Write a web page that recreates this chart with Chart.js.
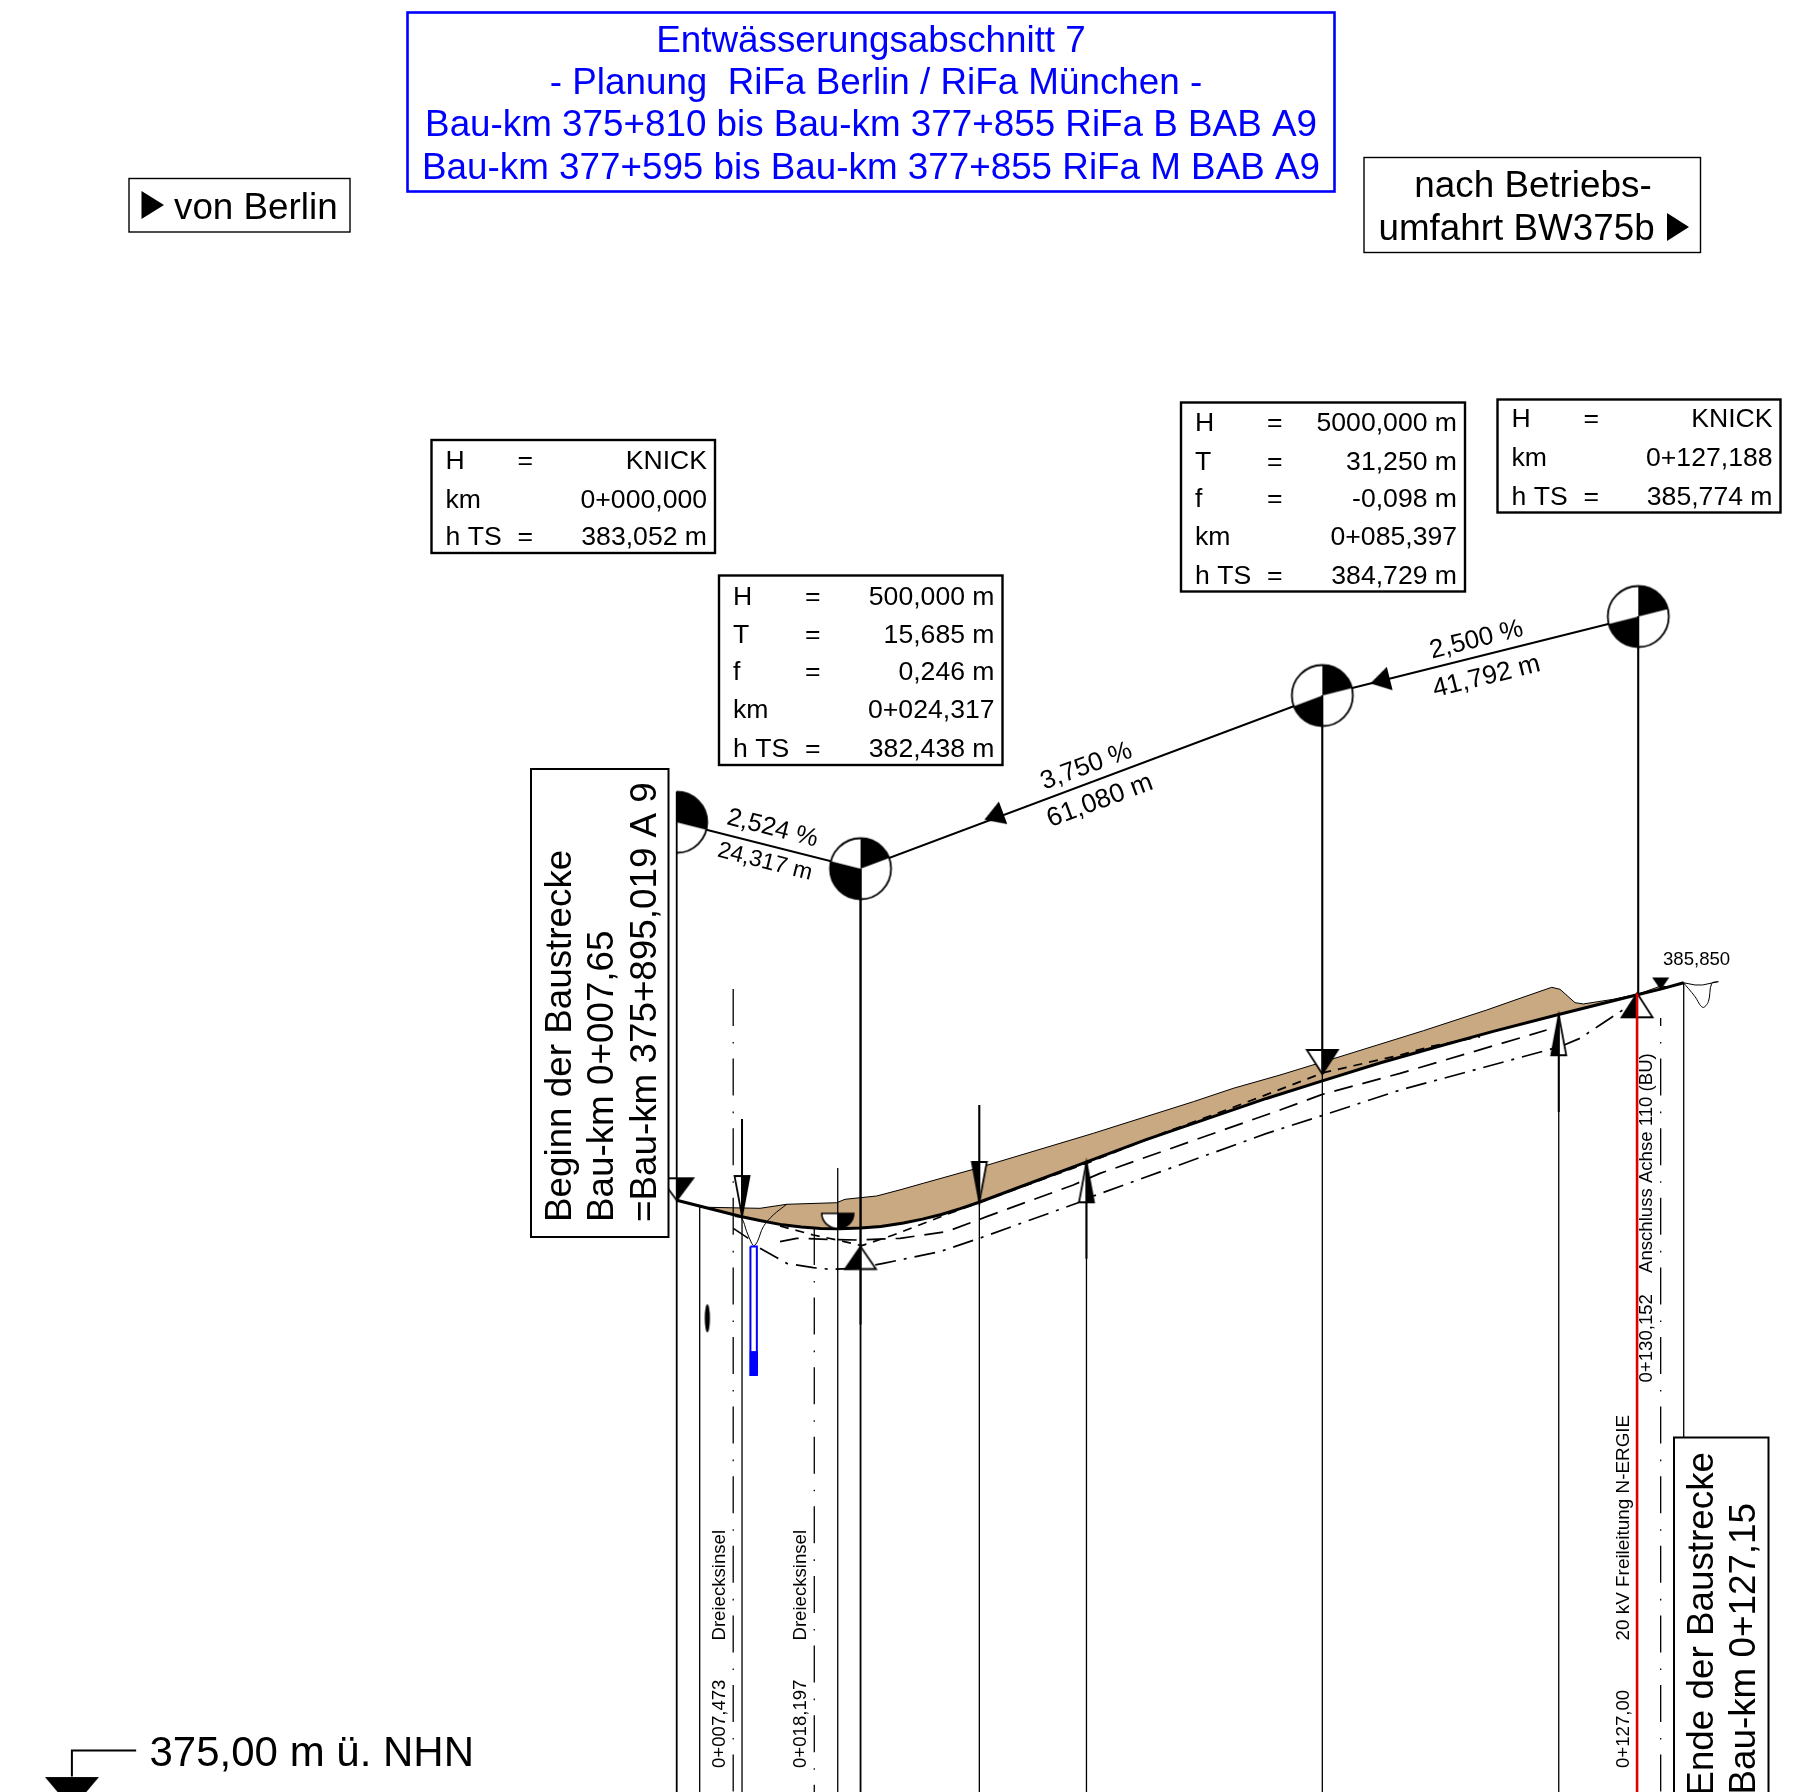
<!DOCTYPE html>
<html>
<head>
<meta charset="utf-8">
<title>Entwässerungsabschnitt 7</title>
<script src="https://cdn.jsdelivr.net/npm/chart.js@4/dist/chart.umd.min.js"></script>
<style>
  html, body { margin: 0; padding: 0; background: #fff; overflow: hidden; }
  canvas { display: block; }
</style>
</head>
<body>
<canvas id="profile" width="1817" height="1792"></canvas>
<script>
// Gradiente (station in m, height in m NHN)
const gradeStations = [0, 4.18, 8.63, 11, 14, 16.5, 19, 21.5, 24.32, 27, 30, 32.5, 35, 37.5, 40, 54.15, 62, 70, 78, 85.4, 93, 100, 108, 116.65, 127.19, 130.15, 133.2]
const gradeHeights = [383.052, 382.947, 382.834, 382.784, 382.727, 382.698, 382.680, 382.677, 382.684, 382.705, 382.751, 382.803, 382.864, 382.941, 383.026, 383.557, 383.851, 384.126, 384.399, 384.631, 384.868, 385.066, 385.287, 385.510, 385.774, 385.845, 385.930]

// top of terrain (brown area)
const terrainStations = [4.18, 11.02, 14.55, 21.16, 22.26, 26.46, 29.54, 32.62, 39.24, 41.88, 55.11, 58.64, 68.33, 73.62, 79.8, 87.74, 98.76, 107.14, 111.55, 115.74, 116.84, 118.82, 119.93, 123.89, 127.2, 128.31, 130.2, 130.95]
const terrainHeights = [382.959, 382.946, 382.999, 383.020, 383.065, 383.109, 383.19, 383.277, 383.462, 383.541, 383.938, 384.05, 384.356, 384.533, 384.709, 384.952, 385.295, 385.569, 385.724, 385.869, 385.843, 385.666, 385.649, 385.711, 385.781, 385.82, 385.887, 385.877]

const shortDashStations = [13.66, 18.07, 21.6, 24.47, 28.66, 36.15, 54.2, 64.81, 71.43, 76.72, 85.54, 95.68, 99.64, 106.26]
const shortDashHeights = [382.712, 382.593, 382.518, 382.452, 382.593, 382.88, 383.54, 383.96, 384.2, 384.40, 384.74, 384.973, 385.084, 385.216]

const longDashStations = [13.66, 15.87, 19.84, 23.8, 29.54, 35.71, 41, 52.46, 55.99, 79.8, 85.31, 95.68, 115.07]
const longDashHeights = [382.505, 382.549, 382.536, 382.527, 382.549, 382.637, 382.836, 383.255, 383.408, 384.246, 384.45, 384.731, 385.304]

const dashDotStations = [11.02, 14.55, 18.07, 20.28, 23.8, 27.33, 34.83, 40.03, 52.9, 55.11, 78.04, 85.44, 95.68, 116.84, 119.48, 122.13, 125.66]
const dashDotHeights = [382.417, 382.218, 382.161, 382.139, 382.152, 382.218, 382.373, 382.549, 383.012, 383.108, 383.937, 384.175, 384.51, 385.084, 385.194, 385.37, 385.604]

const ditchStations = [7.71, 8.59, 9.26, 9.92, 10.23, 10.67, 11.46, 12.78, 14.55]
const ditchHeights = [382.836, 382.814, 382.637, 382.483, 382.452, 382.505, 382.703, 382.858, 382.999]
const ditchEdgeStations = [7.49, 9.48]
const ditchEdgeHeights = [382.681, 382.549]
const endDitchStations = [133.15, 133.81, 134.7, 135.71, 136.46, 136.9, 137.78]
const endDitchHeights = [385.93, 385.855, 385.745, 385.604, 385.679, 385.921, 385.944]
const endGroundStations = [133.15, 134.7, 135.7, 137.78]
const endGroundHeights = [385.93, 385.9, 385.9, 385.944]

// tangent polygon, drawn 5 m above the grade
const tangentStations = [0, 24.317, 85.397, 127.188]
const tangentHeights = [388.052, 387.438, 389.729, 390.774]

// vertical station lines
const profileBottom = 375.2
const lineStations = [0, 3.04, 8.64, 21.3, 24.317, 40.03, 54.2, 85.397, 116.67, 127.188]
const lineTops = [388.46, 382.975, 384.127, 383.479, 387.438, 384.313, 383.555, 389.729, 385.5, 390.774]
const lineEnds = [375.2, 375.2, 375.2, 375.2, 375.2, 375.2, 375.2, 375.2, 375.2, 385.79]
const endLineStation = 133.2
const endLineTop = 385.93
const redLineStation = 127.03
const redLineTop = 385.79
const axisStations = [7.473, 18.197, 130.152]
const axisTops = [385.847, 382.686, 385.463]

// heavier upper part of the leader lines
const leaderStations = [8.64, 24.317, 40.03, 54.2, 85.397, 116.67, 127.188]
const leaderTops = [384.127, 387.438, 384.313, 383.555, 389.729, 385.5, 390.774]
const leaderEnds = [382.844, 381.41, 383.03, 382.28, 384.723, 384.22, 385.79]

// blue structure in the ditch
const inletStations = [9.75, 10.6, 10.6, 9.75, 9.75]
const inletHeights = [382.44, 382.44, 380.74, 380.74, 382.44]
const inletFootStations = [9.66, 10.66, 10.66, 9.66]
const inletFootHeights = [381.05, 381.05, 380.74, 380.74]

// datum
const datumStations = [-80, -80, -71.5]
const datumHeights = [375.43, 375.773, 375.773]
const datumMark = [-80]
const datumMarkHeight = [375]

// symbols
const pipeStation = [4.05]
const pipeHeight = [381.491]
const arrowStations = [41.93, 93.03]
const arrowHeights = [388.131, 389.921]
const arrowSlopes = [3.75, 2.5]
const markStations = [0, 8.64, 21.3, 24.317, 40.03, 54.2, 85.397, 116.67, 127.03, 130.15]
const markHeights = [383.052, 382.844, 382.68, 382.44, 383.03, 383.555, 384.723, 385.5, 385.79, 385.834]

// text
const titleLines = ['Entwässerungsabschnitt 7', '- Planung  RiFa Berlin / RiFa München -', 'Bau-km 375+810 bis Bau-km 377+855 RiFa B BAB A9', 'Bau-km 377+595 bis Bau-km 377+855 RiFa M BAB A9']
const fromLabel = 'von Berlin'
const toLines = ['nach Betriebs-', 'umfahrt BW375b']
const knickStartRows = [['H', '=', 'KNICK'], ['km', '', '0+000,000'], ['h TS', '=', '383,052 m']]
const curveOneRows = [['H', '=', '500,000 m'], ['T', '=', '15,685 m'], ['f', '=', '0,246 m'], ['km', '', '0+024,317'], ['h TS', '=', '382,438 m']]
const curveTwoRows = [['H', '=', '5000,000 m'], ['T', '=', '31,250 m'], ['f', '=', '-0,098 m'], ['km', '', '0+085,397'], ['h TS', '=', '384,729 m']]
const knickEndRows = [['H', '=', 'KNICK'], ['km', '', '0+127,188'], ['h TS', '=', '385,774 m']]
const startLines = ['Beginn der Baustrecke', 'Bau-km 0+007,65', '=Bau-km 375+895,019 A 9']
const endLines = ['Ende der Baustrecke', 'Bau-km 0+127,15']
const slopeLabels = ['2,524 %', '3,750 %', '2,500 %']
const lengthLabels = ['24,317 m', '61,080 m', '41,792 m']
const datumLabel = '375,00 m ü. NHN'
const levelLabel = '385,850'
const islandLabel = 'Dreiecksinsel'
const islandStations = ['0+007,473', '0+018,197']
const powerLabel = '20 kV Freileitung N-ERGIE'
const powerStation = '0+127,00'
const accessLabel = 'Anschluss Achse 110 (BU)'
const accessStation = '0+130,152'

function points(xs, ys) {
  return xs.map((x, i) => ({ x: x, y: ys[i] }))
}

function line(xs, ys, width, extra) {
  return Object.assign({
    data: points(xs, ys),
    showLine: true,
    pointRadius: 0,
    borderColor: '#000',
    borderWidth: width,
    fill: false,
    tension: 0,
    order: 3
  }, extra)
}

function symbolCanvas(size, draw) {
  const c = document.createElement('canvas')
  c.width = size
  c.height = size
  const g = c.getContext('2d')
  g.translate(size / 2, size / 2)
  g.lineJoin = 'miter'
  draw(g)
  return c
}

// apex sits in the middle of the image so the data point is the apex
function triangle(up, halfWidth, height, blackSide) {
  const base = up ? height : -height
  return symbolCanvas(Math.ceil(height + 4) * 2 + Math.ceil(halfWidth) * 2, g => {
    g.beginPath(); g.moveTo(0, 0); g.lineTo(-halfWidth, base); g.lineTo(halfWidth, base); g.closePath()
    g.fillStyle = '#fff'; g.fill()
    g.beginPath(); g.moveTo(0, 0); g.lineTo(blackSide * halfWidth, base); g.lineTo(0, base); g.closePath()
    g.fillStyle = '#000'; g.fill()
    g.beginPath(); g.moveTo(0, 0); g.lineTo(-halfWidth, base); g.lineTo(halfWidth, base); g.closePath()
    g.lineWidth = 1.8; g.strokeStyle = '#000'; g.stroke()
  })
}

function solidTriangle(up, halfWidth, height) {
  const base = up ? height : -height
  return symbolCanvas(Math.ceil(height + halfWidth + 4) * 2, g => {
    g.beginPath(); g.moveTo(0, 0); g.lineTo(-halfWidth, base); g.lineTo(halfWidth, base); g.closePath()
    g.fillStyle = '#000'; g.fill()
  })
}

function halfDisc() {
  return symbolCanvas(48, g => {
    g.beginPath(); g.ellipse(0, -15, 16, 15, 0, 0, Math.PI); g.closePath()
    g.fillStyle = '#fff'; g.fill()
    g.beginPath(); g.moveTo(0, -15); g.lineTo(16, -15); g.ellipse(0, -15, 16, 15, 0, 0, Math.PI / 2); g.closePath()
    g.fillStyle = '#000'; g.fill()
    g.beginPath(); g.ellipse(0, -15, 16, 15, 0, 0, Math.PI); g.closePath()
    g.lineWidth = 1.6; g.strokeStyle = '#000'; g.stroke()
  })
}

// quadrant circle of a tangent point, black wedges bounded by the tangents
function tangentPoint(rightAngle, leftAngle, rightOnly) {
  const r = 30.5
  const rad = d => d * Math.PI / 180
  return symbolCanvas(70, g => {
    if (rightOnly) { g.beginPath(); g.rect(0, -35, 35, 70); g.clip() }
    g.beginPath(); g.arc(0, 0, r, 0, Math.PI * 2); g.fillStyle = '#fff'; g.fill()
    g.fillStyle = '#000'
    g.beginPath(); g.moveTo(0, 0); g.arc(0, 0, r, rad(270), rad(rightAngle)); g.closePath(); g.fill()
    if (!rightOnly) {
      g.beginPath(); g.moveTo(0, 0); g.arc(0, 0, r, rad(90), rad(leftAngle)); g.closePath(); g.fill()
    }
    g.beginPath(); g.arc(0, 0, r, 0, Math.PI * 2); g.lineWidth = 1.8; g.strokeStyle = '#000'; g.stroke()
  })
}

function arrowHead() {
  return symbolCanvas(40, g => {
    g.beginPath(); g.moveTo(-10, 0); g.lineTo(10, -12); g.lineTo(10, 12); g.closePath()
    g.fillStyle = '#000'; g.fill()
  })
}

function pipeEllipse() {
  return symbolCanvas(36, g => {
    g.beginPath(); g.ellipse(0, 0, 2.6, 14, 0, 0, Math.PI * 2)
    g.fillStyle = '#000'; g.fill()
  })
}

const markStyles = [
  triangle(false, 16.5, 22, 1),
  triangle(false, 7.5, 40, 1),
  halfDisc(),
  triangle(true, 15.5, 22.5, -1),
  triangle(false, 7.5, 40, -1),
  triangle(true, 7.5, 40, 1),
  triangle(false, 15.5, 24, 1),
  triangle(true, 7.5, 40, -1),
  triangle(true, 15.5, 24, -1),
  solidTriangle(false, 8.5, 12.5)
]

const tangentStyles = [
  tangentPoint(374, 0, true),
  tangentPoint(339.6, 194, false),
  tangentPoint(346, 159.6, false),
  tangentPoint(346, 166, false)
]

const datasets = []

lineStations.forEach((s, i) => {
  datasets.push(line([s, s], [lineTops[i], lineEnds[i]], i === 0 || i === 4 ? 1.8 : 1.3, { order: 1 }))
})
leaderStations.forEach((s, i) => {
  datasets.push(line([s, s], [leaderTops[i], leaderEnds[i]], 2, { order: 1 }))
})
datasets.push(line([endLineStation, endLineStation], [endLineTop, profileBottom], 1.3, { order: 1 }))
datasets.push(line([redLineStation, redLineStation], [redLineTop, profileBottom], 2.6, { borderColor: '#e00000', order: 1 }))
axisStations.forEach((s, i) => {
  datasets.push(line([s, s], [axisTops[i], profileBottom], 1.3, {
    borderDash: [37, 16, 1.6, 15],
    borderDashOffset: i === 2 ? 29 : 0,
    order: 1
  }))
})

const gradeIndex = datasets.length
datasets.push(line(gradeStations, gradeHeights, 3, { order: 3 }))
datasets.push(line(terrainStations, terrainHeights, 1, {
  fill: { target: gradeIndex },
  backgroundColor: '#c9a982',
  order: 6
}))
datasets.push(line(shortDashStations, shortDashHeights, 1.7, { borderDash: [9, 7], order: 4 }))
datasets.push(line(longDashStations, longDashHeights, 1.7, { borderDash: [19, 10], order: 4 }))
datasets.push(line(dashDotStations, dashDotHeights, 1.7, { borderDash: [21, 8, 3, 8], order: 4 }))
datasets.push(line(ditchStations, ditchHeights, 1, { tension: 0.35, order: 4 }))
datasets.push(line(ditchEdgeStations, ditchEdgeHeights, 1.6, { order: 4 }))
datasets.push(line(endDitchStations, endDitchHeights, 1, { tension: 0.35, order: 4 }))
datasets.push(line(endGroundStations, endGroundHeights, 1, { order: 4 }))
datasets.push(line(tangentStations, tangentHeights, 2, { order: 3 }))
datasets.push(line(inletStations, inletHeights, 2, { borderColor: '#0000ff', order: 2 }))
datasets.push(line(inletFootStations, inletFootHeights, 1, { borderColor: '#0000ff', backgroundColor: '#0000ff', fill: 'shape', order: 2 }))
datasets.push(line(datumStations, datumHeights, 2, { order: 2 }))

function symbols(xs, ys, style, rotation) {
  return {
    data: points(xs, ys),
    showLine: false,
    pointStyle: style,
    pointRadius: 40,
    pointRotation: rotation || 0,
    order: 2
  }
}

datasets.push(symbols(markStations, markHeights, markStyles))
datasets.push(symbols(tangentStations, tangentHeights, tangentStyles))
datasets.push(symbols(arrowStations, arrowHeights, arrowHead(), arrowSlopes.map(p => p === 3.75 ? -20.4 : -14)))
datasets.push(symbols(pipeStation, pipeHeight, pipeEllipse()))
datasets.push(symbols(datumMark, datumMarkHeight, solidTriangle(false, 27, 32)))

// boxes and labels are placed on the sheet, not in data units
const FONT = '"Liberation Sans", Arial, sans-serif'

function box(ctx, x0, y0, x1, y1, color, width) {
  ctx.fillStyle = '#fff'
  ctx.fillRect(x0, y0, x1 - x0, y1 - y0)
  ctx.strokeStyle = color
  ctx.lineWidth = width
  ctx.strokeRect(x0, y0, x1 - x0, y1 - y0)
}

function infoBox(ctx, rows, x0, y0, x1, y1, baselines) {
  box(ctx, x0, y0, x1, y1, '#000', 2.4)
  ctx.font = '26.6px ' + FONT
  ctx.fillStyle = '#000'
  rows.forEach((row, i) => {
    ctx.textAlign = 'left'
    ctx.fillText(row[0], x0 + 14, baselines[i])
    ctx.fillText(row[1], x0 + 86, baselines[i])
    ctx.textAlign = 'right'
    ctx.fillText(row[2], x1 - 8, baselines[i])
  })
  ctx.textAlign = 'left'
}

function upText(ctx, text, x, y, align) {
  ctx.save()
  ctx.translate(x, y)
  ctx.rotate(-Math.PI / 2)
  ctx.textAlign = align || 'left'
  ctx.fillText(text, 0, 0)
  ctx.restore()
}

function slantText(ctx, text, size, x, y, degrees) {
  ctx.save()
  ctx.font = size + 'px ' + FONT
  ctx.translate(x, y)
  ctx.rotate(degrees * Math.PI / 180)
  ctx.textAlign = 'center'
  ctx.textBaseline = 'middle'
  ctx.fillText(text, 0, 0)
  ctx.restore()
}

function playMark(ctx, x0, y0, x1, y1) {
  ctx.fillStyle = '#000'
  ctx.beginPath()
  ctx.moveTo(x0, y0)
  ctx.lineTo(x1, (y0 + y1) / 2)
  ctx.lineTo(x0, y1)
  ctx.closePath()
  ctx.fill()
}

const sheetText = {
  id: 'sheetText',
  afterDatasetsDraw(chart) {
    const ctx = chart.ctx
    ctx.save()
    ctx.textBaseline = 'alphabetic'

    // title
    box(ctx, 407.5, 12.5, 1334.5, 191.5, '#0000ff', 2.6)
    ctx.font = '36.8px ' + FONT
    ctx.fillStyle = '#0000ff'
    ctx.textAlign = 'center'
    const titleBase = [52, 94, 136, 178.5]
    const titleCentre = [871, 876, 871, 871]
    titleLines.forEach((t, i) => ctx.fillText(t, titleCentre[i], titleBase[i]))

    // direction boxes
    box(ctx, 129, 178.5, 350, 232, '#000', 1.4)
    box(ctx, 1364, 157.5, 1700.5, 252.5, '#000', 1.4)
    playMark(ctx, 141.5, 191, 164, 219)
    playMark(ctx, 1667, 213, 1689, 241)
    ctx.font = '36.8px ' + FONT
    ctx.fillStyle = '#000'
    ctx.textAlign = 'left'
    ctx.fillText(fromLabel, 174, 219)
    ctx.textAlign = 'center'
    ctx.fillText(toLines[0], 1533, 197)
    ctx.textAlign = 'left'
    ctx.fillText(toLines[1], 1378.5, 239.5)

    // curve tables
    infoBox(ctx, knickStartRows, 431.5, 440, 715, 553, [469, 508, 545])
    infoBox(ctx, curveOneRows, 719, 575.5, 1002.5, 765, [605, 643, 680, 718, 757])
    infoBox(ctx, curveTwoRows, 1181, 402.5, 1465, 591.5, [431, 470, 507, 545, 584])
    infoBox(ctx, knickEndRows, 1497.5, 399.5, 1780.5, 512.5, [427, 466, 505])

    // start and end of the section
    box(ctx, 531, 769, 668.5, 1237, '#000', 2)
    box(ctx, 1674, 1437.5, 1768.5, 1810, '#000', 2)
    ctx.font = '36.8px ' + FONT
    ctx.fillStyle = '#000'
    const startBase = [570.5, 613, 656]
    startLines.forEach((t, i) => upText(ctx, t, startBase[i], 1222))
    upText(ctx, endLines[0], 1712.5, 1452, 'right')
    upText(ctx, endLines[1], 1755, 1503, 'right')

    // slopes and lengths on the tangent polygon
    slantText(ctx, slopeLabels[0], 25.3, 772.5, 828.5, 14.2)
    slantText(ctx, lengthLabels[0], 23.2, 765, 862, 14.2)
    slantText(ctx, slopeLabels[1], 26, 1086.5, 766.5, -20.4)
    slantText(ctx, lengthLabels[1], 26.6, 1100, 801, -20.4)
    slantText(ctx, slopeLabels[2], 26, 1476.5, 640, -14)
    slantText(ctx, lengthLabels[2], 26.4, 1486.5, 677, -14)

    // small labels along the station lines
    ctx.font = '18.6px ' + FONT
    ctx.textAlign = 'left'
    ctx.fillText(levelLabel, 1663, 965)
    upText(ctx, islandLabel, 724.5, 1640.5)
    upText(ctx, islandLabel, 805.5, 1640.5)
    upText(ctx, islandStations[0], 724.5, 1768)
    upText(ctx, islandStations[1], 805.5, 1768)
    upText(ctx, powerStation, 1629, 1768)
    upText(ctx, accessLabel, 1651.5, 1273)
    upText(ctx, accessStation, 1651.5, 1382.5)
    ctx.font = '18.9px ' + FONT
    upText(ctx, powerLabel, 1629, 1640.5)

    ctx.font = '42px ' + FONT
    ctx.fillText(datumLabel, 149.5, 1766)
    ctx.restore()
  }
}

new Chart(document.getElementById('profile'), {
  type: 'scatter',
  data: { datasets: datasets },
  options: {
    responsive: false,
    animation: false,
    events: [],
    layout: { padding: 0, autoPadding: false },
    plugins: { legend: { display: false }, tooltip: { enabled: false } },
    scales: {
      x: { type: 'linear', display: false, min: -89.51, max: 150.83 },
      y: { type: 'linear', display: false, min: 375.225, max: 398.929 }
    }
  },
  plugins: [sheetText]
})
</script>
</body>
</html>
